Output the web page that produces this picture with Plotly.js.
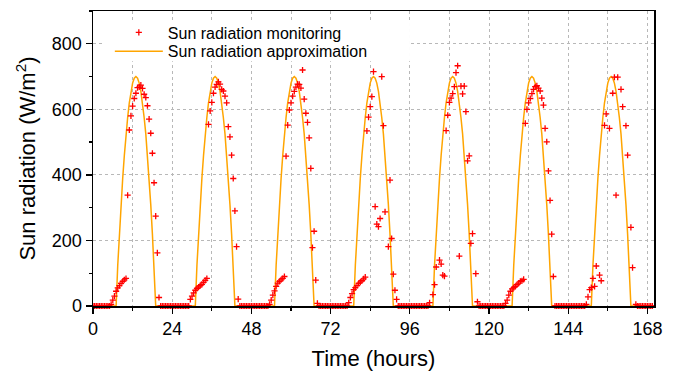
<!DOCTYPE html>
<html>
<head>
<meta charset="utf-8">
<script src="https://cdn.plot.ly/plotly-3.0.1.min.js"></script>
<style>html,body{margin:0;padding:0;background:#fff;}#chart{width:677px;height:376px;}</style>
</head>
<body>
<div id="chart"></div>
<script>
// Half-hourly sun radiation readings (W/m2), one array per day; null = no reading visible
const monitorDay0 = [0,0,0,0,0,0,0,0,0,0,0, 5,18,30,45,55,62,69,75,80,84, 338,537,580,610,633,649,666,668,674,664,646,636,611,570,527,466,376,274,162,26, 0,0,0,0,0,0,0];
const monitorDay1 = [0,0,0,0,0,0,0,0,0,0,0, 20,30,40,48,54,58,62,66,72,78,84, 554,595,621,649,668,676,684,677,661,656,640,620,547,516,460,389,290,181,21, 0,0,0,0,0,0,0];
const monitorDay2 = [0,0,0,0,0,0,0,0,0,0,0, 5,18,33,46,60,70,75,80,84,90, 457,552,598,620,640,655,668,677,676,665,720,631,588,560,513,420,178,228,79,8, 0,0,0,0,0,0,0];
const monitorDay3 = [0,0,0,0,0,0,0,0,0,0,0, 10,26,38,50,56,62,69,73,77,83,88, 534,576,608,639,715,303,250,242,267,700,550,287,null,181,384,206,97,48,20, 0,0,0,0,0,0,0];
const monitorDay4 = [0,0,0,0,0,0,0,0,0,0,0,0, 10,null,35,65,119,null,140,128,94,91, 535,582,621,634,648,669,712,733,152,671,647,671,593,443,458,191,221,null,99,13, 0,0,0,0,0,0];
const monitorDay5 = [0,0,0,0,0,0,0,0,0,0, 8,18,33,45,52,56,60,65,70,75,77,81, 557,600,620,633,648,661,669,672,665,656,634,613,542,501,412,322,219,90, 0,0,0,0,0,0,0,0];
const monitorDay6 = [0,0,0,0,0,0,0,0,0,0,0, 5,28,50,56,84,60,122,null,94,77,null, 551,586,null,542,null,649,698,338,698,null,661,608,null,550,460,null,240,117,null,5, 0,0,0,0,0,0,0,0,0,0];

// Half-hourly approximation curve (W/m2), one array per day
const approxDay0 = [0,0,0,0,0,0,0,0,0,0,0,0,0,0,0, 125,220,310,390,460,525,575,620,655,680,695,700,695,680,655,620,575,525,460,390,310,220,125,0, 0,0,0,0,0,0,0,0,0];
const approxDay1 = [0,0,0,0,0,0,0,0,0,0,0,0,0,0,0, 125,220,310,390,460,525,575,620,655,680,695,700,695,680,655,620,575,525,460,390,310,220,125,0, 0,0,0,0,0,0,0,0,0];
const approxDay2 = [0,0,0,0,0,0,0,0,0,0,0,0,0,0,0, 125,220,310,390,460,525,575,620,655,680,695,700,695,680,655,620,575,525,460,390,310,220,125,0, 0,0,0,0,0,0,0,0,0];
const approxDay3 = [0,0,0,0,0,0,0,0,0,0,0,0,0,0,0, 125,220,310,390,460,525,575,620,655,680,695,700,695,680,655,620,575,525,460,390,310,220,125,0, 0,0,0,0,0,0,0,0,0];
const approxDay4 = [0,0,0,0,0,0,0,0,0,0,0,0,0,0,0, 125,220,310,390,460,525,575,620,655,680,695,700,695,680,655,620,575,525,460,390,310,220,125,0, 0,0,0,0,0,0,0,0,0];
const approxDay5 = [0,0,0,0,0,0,0,0,0,0,0,0,0,0,0, 125,220,310,390,460,525,575,620,655,680,695,700,695,680,655,620,575,525,460,390,310,220,125,0, 0,0,0,0,0,0,0,0,0];
const approxDay6 = [0,0,0,0,0,0,0,0,0,0,0,0,0,0,0, 125,220,310,390,460,525,575,620,655,680,695,700,695,680,655,620,575,525,460,390,310,220,125,0, 0,0,0,0,0,0,0,0,0,0,0,0,0];

const sampleStepHours = 0.5;
const xTickLabels = ['0','24','48','72','96','120','144','168'];
const xTickValues = [0,24,48,72,96,120,144,168];
const yTickValues = [0,200,400,600,800];

const monitoring = [].concat(monitorDay0, monitorDay1, monitorDay2, monitorDay3, monitorDay4, monitorDay5, monitorDay6);
const approximation = [].concat(approxDay0, approxDay1, approxDay2, approxDay3, approxDay4, approxDay5, approxDay6);
const tMon = monitoring.map((_, i) => i * sampleStepHours);
const tApp = approximation.map((_, i) => i * sampleStepHours);

const FONT = 'Liberation Sans, Arial, Helvetica, sans-serif';
const GRID = '#b8b8b8';

const traces = [
  {
    x: tApp, y: approximation, type: 'scatter', mode: 'lines',
    name: 'Sun radiation approximation',
    line: {color: '#FFA500', width: 1.5},
    legend: 'legend2'
  },
  {
    x: tMon, y: monitoring, type: 'scatter', mode: 'markers',
    name: 'Sun radiation monitoring',
    marker: {symbol: 'cross-thin', size: 4.4, color: '#ff0000', line: {color: '#ff0000', width: 1.3}},
    cliponaxis: false,
    legend: 'legend'
  }
];

const legendCommon = {
  xanchor: 'left', yanchor: 'top',
  bgcolor: 'rgba(255,255,255,0)', borderwidth: 0,
  font: {family: FONT, size: 16, color: '#000'},
  itemwidth: 48
};

const layout = {
  width: 677, height: 376,
  margin: {l: 93, r: 23, t: 11, b: 70},
  paper_bgcolor: '#ffffff', plot_bgcolor: '#ffffff',
  font: {family: FONT, color: '#000', size: 18},
  showlegend: true,
  legend: Object.assign({x: 0.03, y: 0.985}, legendCommon),
  legend2: Object.assign({x: 0.03, y: 0.921}, legendCommon),
  // white legend box hiding the gridlines behind the legend
  shapes: [{
    type: 'rect', xref: 'paper', yref: 'paper',
    x0: 0.021, x1: 0.565, y0: 0.83, y1: 0.969,
    fillcolor: '#ffffff', line: {width: 0}, layer: 'above'
  }],
  xaxis: {
    range: [0, 170],
    tickmode: 'array', tickvals: xTickValues, ticktext: xTickLabels,
    ticks: 'outside', ticklen: 6, tickwidth: 1.3, tickcolor: '#000',
    showline: true, linecolor: '#000', linewidth: 1.5, mirror: true,
    showgrid: true, gridcolor: GRID, gridwidth: 1, griddash: 'dot',
    zeroline: false,
    tickfont: {family: FONT, size: 18, color: '#000'},
    minor: {dtick: 12, tick0: 0, ticks: 'outside', ticklen: 3, tickcolor: '#000', showgrid: true, gridcolor: GRID, gridwidth: 1, griddash: 'dot'},
    title: {text: 'Time (hours)', font: {family: FONT, size: 22, color: '#000'}, standoff: 12}
  },
  yaxis: {
    range: [0, 900],
    tickmode: 'array', tickvals: yTickValues,
    ticks: 'outside', ticklen: 6, tickwidth: 1.3, tickcolor: '#000',
    showline: true, linecolor: '#000', linewidth: 1.5, mirror: true,
    showgrid: true, gridcolor: GRID, gridwidth: 1, griddash: 'dot',
    zeroline: false,
    tickfont: {family: FONT, size: 18, color: '#000'},
    minor: {dtick: 100, tick0: 0, ticks: 'outside', ticklen: 3, tickcolor: '#000', showgrid: false},
    title: {text: 'Sun radiation (W/m<sup>2</sup>)', font: {family: FONT, size: 22, color: '#000'}, standoff: 10}
  }
};

Plotly.newPlot('chart', traces, layout, {displayModeBar: false, staticPlot: true});
</script>
</body>
</html>
